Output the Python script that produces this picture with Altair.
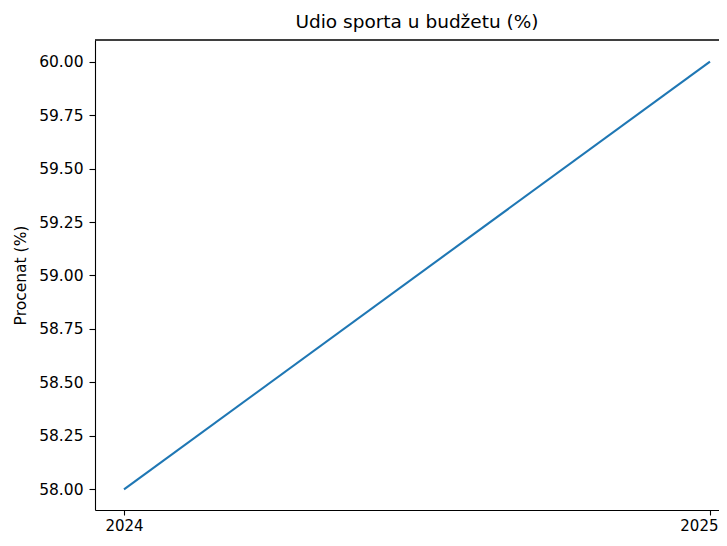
import altair as alt
import pandas as pd

years = [2024, 2025]
values = [58.0, 60.0]
y_ticks = [58.0, 58.25, 58.5, 58.75, 59.0, 59.25, 59.5, 59.75, 60.0]
x_ticks = [2024, 2025]

df = pd.DataFrame({"Godina": years, "Procenat": values})

W, H = 624, 470
FONT = "DejaVu Sans"

line = alt.Chart(df).mark_line(color="#1f77b4", strokeWidth=2.1, clip=True).encode(
    x=alt.X("Godina:Q",
            scale=alt.Scale(domain=[2023.9505, 2025.0154], nice=False, zero=False),
            axis=alt.Axis(values=x_ticks, format="d", title=None, grid=False,
                          tickSize=5, labelPadding=3, labelFontSize=15,
                          labelAlign=alt.expr("datum.value == 2025 ? 'right' : 'center'"),
                          labelOffset=alt.expr("datum.value == 2025 ? 8 : 0"),
                          domainColor="black", tickColor="black", labelColor="black",
                          domainWidth=1.1, tickWidth=1.1,
                          labelFont=FONT, labelFlush=False)),
    y=alt.Y("Procenat:Q",
            scale=alt.Scale(domain=[57.9037, 60.1009], nice=False, zero=False),
            axis=alt.Axis(values=y_ticks, format=".2f", title="Procenat (%)", grid=False,
                          tickSize=6, labelPadding=6, labelFontSize=15.5,
                          titleFontSize=15.5, titleFontWeight="normal", titleFont=FONT,
                          titlePadding=10, titleColor="black",
                          domainColor="black", tickColor="black", labelColor="black",
                          domainWidth=1.1, tickWidth=1.1,
                          labelFont=FONT)),
)

top = alt.Chart(df).mark_rule(color="black", strokeWidth=1.1).encode(
    x=alt.value(0), x2=alt.value(W + 20), y=alt.value(0)
)

chart = alt.layer(line, top).properties(
    width=W, height=H,
    title=alt.TitleParams("Udio sporta u budžetu (%)", fontSize=18.5, font=FONT,
                          fontWeight="normal", color="black", offset=8, dx=10),
    autosize=alt.AutoSizeParams(type="none"),
    padding={"left": 87, "top": 32, "right": 0, "bottom": 28},
).configure_view(stroke=None)

chart.save("out.html", embed_options={"renderer": "svg", "actions": False})
